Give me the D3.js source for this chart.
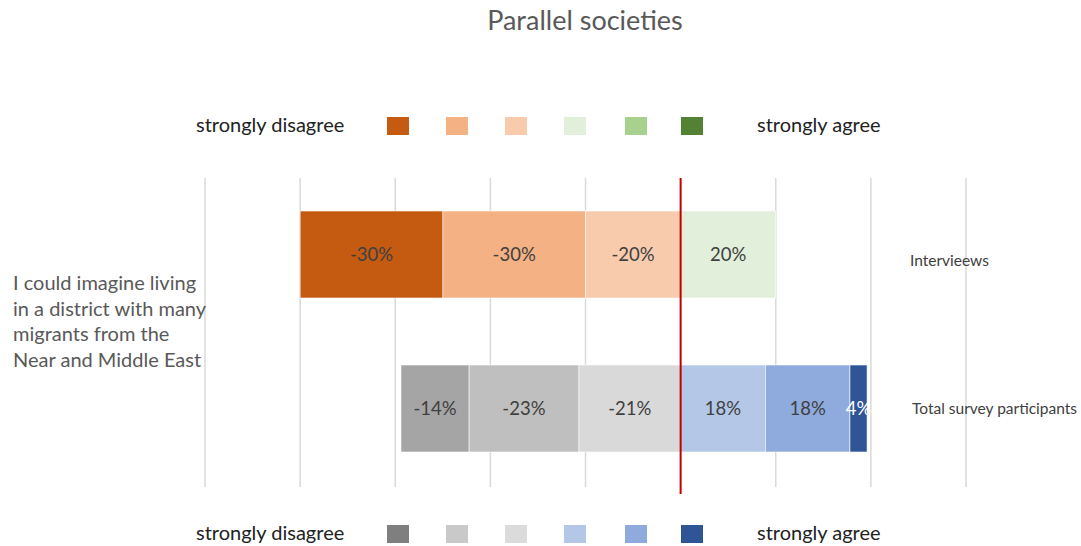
<!DOCTYPE html>
<html>
<head>
<meta charset="utf-8">
<script src="https://cdn.jsdelivr.net/npm/d3@7"></script>
<style>
  body { margin: 0; background: #fff; }
  svg { display: block; font-family: Lato, "Open Sans", sans-serif; }
</style>
</head>
<body>
<div id="chart"></div>
<script>
// ---- data ----
const title = 'Parallel societies';
const question = ['I could imagine living', 'in a district with many', 'migrants from the', 'Near and Middle East'];
const groups = ['Intervieews', 'Total survey participants'];
const levels = ['strongly disagree', 'disagree', 'somewhat disagree', 'somewhat agree', 'agree', 'strongly agree'];
// signed shares, disagree negative
const interviewValues = [-30, -30, -20, 20, 0, 0];
const surveyValues = [-14.3, -23.1, -21.4, 17.8, 17.8, 3.6];
const interviewColors = ['#C55A11', '#F4B183', '#F8CBAD', '#E2EFDA', '#A9D18E', '#548235'];
const surveyColors = ['#A5A5A5', '#BFBFBF', '#D9D9D9', '#B4C7E7', '#8FAADC', '#2F5597'];
const surveyLegendColors = ['#7F7F7F', '#C9C9C9', '#DBDBDB', '#B4C7E7', '#8FAADC', '#2F5597'];
const gridTicks = [-100, -80, -60, -40, -20, 0, 20, 40, 60];

const width = 1081, height = 546;
const svg = d3.select('#chart').append('svg')
  .attr('width', width).attr('height', height);

const x = d3.scaleLinear().domain([-100, 60]).range([205, 966]);
const y = d3.scaleBand().domain(groups).range([177.5, 485.5])
  .paddingInner(0.435).paddingOuter(0.2175);

// Title
svg.append('text')
  .attr('x', 585).attr('y', 30)
  .attr('text-anchor', 'middle')
  .attr('font-size', 27).attr('fill', '#595959')
  .text(title);

// Grid lines
svg.append('g').selectAll('line')
  .data(gridTicks.filter(d => d !== 0))
  .join('line')
  .attr('x1', d => x(d)).attr('x2', d => x(d))
  .attr('y1', 178).attr('y2', 487)
  .attr('stroke', '#D9D9D9').attr('stroke-width', 1.5);

// Build stacked segments
function segments(values) {
  const out = [];
  let neg = 0, pos = 0;
  // negatives stack outward from zero, innermost level first
  for (let i = 2; i >= 0; i--) {
    const v = values[i];
    out.push({ i, v, x0: neg + v, x1: neg });
    neg += v;
  }
  for (let i = 3; i < 6; i++) {
    const v = values[i];
    out.push({ i, v, x0: pos, x1: pos + v });
    pos += v;
  }
  return out.filter(d => d.v !== 0);
}

const rows = [
  { group: groups[0], segs: segments(interviewValues), colors: interviewColors, lx: 910, dy: 6 },
  { group: groups[1], segs: segments(surveyValues), colors: surveyColors, lx: 912, dy: 0 }
];

const fmt = d => Math.round(d) + '%';

rows.forEach(row => {
  const g = svg.append('g');
  g.selectAll('rect')
    .data(row.segs)
    .join('rect')
    .attr('x', d => x(d.x0))
    .attr('width', d => x(d.x1) - x(d.x0))
    .attr('y', y(row.group))
    .attr('height', y.bandwidth())
    .attr('fill', d => row.colors[d.i])
    .attr('stroke', '#fff').attr('stroke-width', 0.6);

  g.selectAll('text')
    .data(row.segs)
    .join('text')
    .attr('x', d => (x(d.x0) + x(d.x1)) / 2)
    .attr('y', y(row.group) + y.bandwidth() / 2)
    .attr('dy', '0.35em')
    .attr('text-anchor', 'middle')
    .attr('font-size', 18.5)
    .attr('fill', d => (row.group === groups[1] && d.i === 5) ? '#fff' : '#404040')
    .text(d => fmt(d.v));

  svg.append('text')
    .attr('x', row.lx)
    .attr('y', y(row.group) + y.bandwidth() / 2 + row.dy)
    .attr('dy', '0.35em')
    .attr('font-size', 15.5).attr('fill', '#404040')
    .text(row.group);
});

// Zero line
svg.append('line')
  .attr('x1', x(0)).attr('x2', x(0))
  .attr('y1', 178).attr('y2', 494)
  .attr('stroke', '#C00000').attr('stroke-width', 2);

// Question label
svg.append('text')
  .attr('font-size', 20).attr('fill', '#595959')
  .selectAll('tspan')
  .data(question)
  .join('tspan')
  .attr('x', 13)
  .attr('y', (d, i) => 290 + i * 25.5)
  .text(d => d);

// Legends
const legendX = [387, 446, 505, 564, 625, 681];
function legend(yTop, colors) {
  const g = svg.append('g');
  g.append('text')
    .attr('x', 196).attr('y', yTop + 8).attr('dy', '0.35em')
    .attr('font-size', 20).attr('fill', '#222')
    .text('strongly disagree');
  g.selectAll('rect')
    .data(colors)
    .join('rect')
    .attr('x', (d, i) => legendX[i])
    .attr('y', yTop)
    .attr('width', 22).attr('height', 18)
    .attr('fill', d => d);
  g.append('text')
    .attr('x', 757).attr('y', yTop + 8).attr('dy', '0.35em')
    .attr('font-size', 20).attr('fill', '#222')
    .text('strongly agree');
}
legend(117, interviewColors);
legend(525, surveyLegendColors);
</script>
</body>
</html>
